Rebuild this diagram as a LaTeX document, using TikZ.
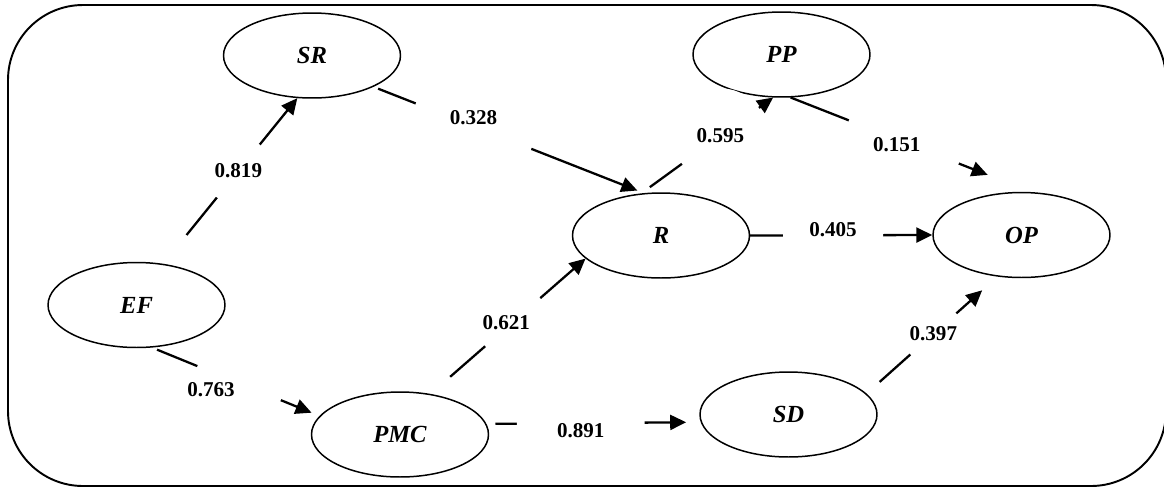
\documentclass[tikz,border=0pt]{standalone}
\usepackage{fontspec}
\setmainfont{Liberation Serif}
\usetikzlibrary{arrows.meta,shapes.geometric}

\begin{document}
\begin{tikzpicture}
  [x=0.02cm, y=-0.02cm,
  latent/.style={ellipse, draw, line width=0.85pt, inner sep=0pt,
    minimum width=3.54cm, minimum height=1.7cm,
    font=\fontsize{14}{16}\selectfont\bfseries\itshape},
  effect/.style={line width=1.3pt, -{Triangle[length=0.32cm, width=0.3cm]}},
  gap/.style={circle, fill=white, inner sep=0pt, minimum size=#1},
  coef/.style={font=\fontsize{12}{14}\selectfont\bfseries}]

  \useasboundingbox (0,0) rectangle (1164,488);

  \node[latent] (SR)  at (312,55.5)    {SR};
  \node[latent] (PP)  at (781.5,54.5)  {PP};
  \node[latent] (R)   at (661,235.5)   {R};
  \node[latent] (OP)  at (1021.5,235)  {OP};
  \node[latent] (EF)  at (136.5,305)   {EF};
  \node[latent] (PMC) at (400,434.5)   {PMC};
  \node[latent] (SD)  at (788.5,414.5) {SD};

  % paths with the coefficient sitting in a gap of the line
  \draw [effect, shorten <=0.74cm] (EF.57) -- node[gap=1.36cm, pos=0.56, label={[coef]center:0.819}] {} (SR.251);
  \draw [effect, shorten <=0.1cm, shorten >=0.14cm] (SR.333) -- node[gap=2.48cm, pos=0.37, label={[coef, shift={(0,-9)}]center:0.328}] {} (R.112);
  \draw [effect, shorten <=0.21cm] (R.115) -- node[gap=1.9cm, pos=0.6, label={[coef]center:0.595}] {} (PP.259);
  \draw [effect, shorten >=0.94cm] (PP.282) -- node[gap=2.36cm, pos=0.47, label={[coef, shift={(-7,3)}]center:0.151}] {} (OP.77);
  \draw [effect] (R.east) -- node[gap=2cm, pos=0.455, label={[coef, shift={(0,-6)}]center:0.405}] {} (OP.west);
  \draw [effect, shorten <=0.11cm, shorten >=0.17cm] (EF.290) -- node[gap=1.8cm, pos=0.52, label={[coef, shift={(-28,6.5)}]center:0.763}] {} (PMC.167);
  \draw [effect, shorten <=0.52cm] (PMC.53) -- node[gap=1.46cm, pos=0.53, label={[coef, shift={(-6.5,0)}]center:0.621}] {} (R.197);
  \draw [effect, shorten <=0.18cm, shorten >=0.29cm] (PMC.7) -- node[gap=2.56cm, pos=0.44, label={[coef, shift={(0,7.5)}]center:0.891}] {} (SD.185);
  \draw [effect, shorten <=0.35cm, shorten >=0.41cm] (SD.15) -- node[gap=1.23cm, pos=0.51, label={[coef]center:0.397}] {} (OP.240);

  \draw [line width=1.1pt, rounded corners=1.5cm] (8,5) rectangle (1166,486);

\end{tikzpicture}
\end{document}
